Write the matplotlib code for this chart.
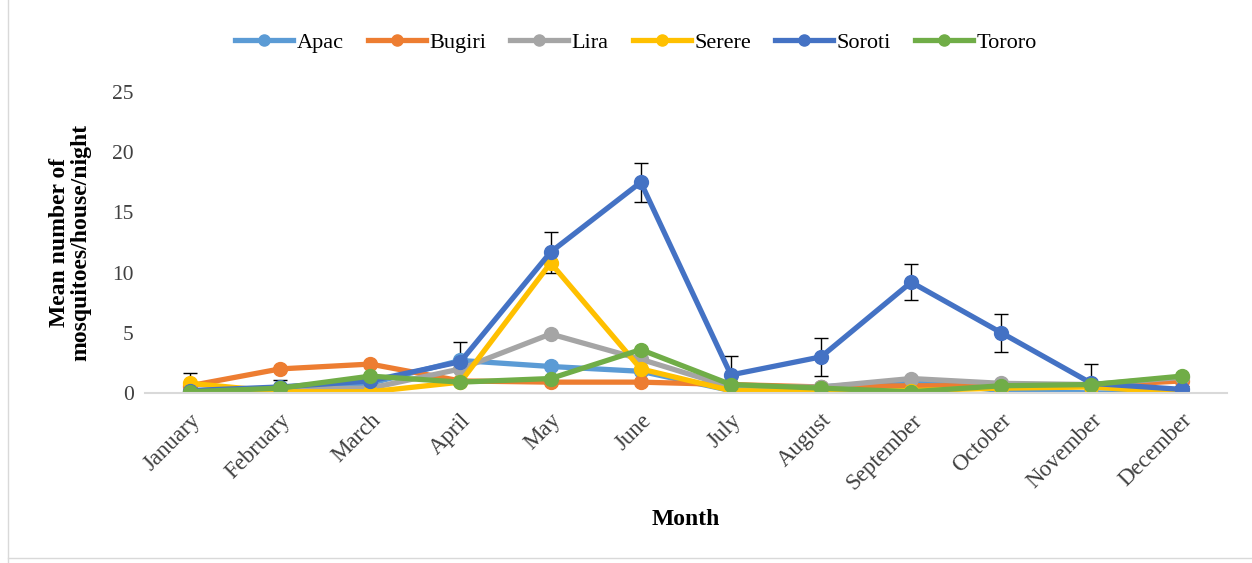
import matplotlib.pyplot as plt
import numpy as np

months = ["January", "February", "March", "April", "May", "June", "July",
          "August", "September", "October", "November", "December"]

apac = [0.0, 0.3, 0.8, 2.7, 2.2, 1.8, 0.2, 0.5, 1.0, 0.2, 0.0, 0.0]
bugiri = [0.6, 2.0, 2.4, 1.0, 0.9, 0.9, 0.7, 0.5, 0.6, 0.6, 0.6, 1.0]
lira = [0.1, 0.3, 0.4, 2.0, 4.9, 2.8, 0.5, 0.5, 1.2, 0.8, 0.7, 1.3]
serere = [0.8, 0.1, 0.1, 0.9, 10.8, 2.0, 0.2, 0.1, 0.2, 0.4, 0.5, 0.0]
soroti = [0.2, 0.5, 1.0, 2.6, 11.7, 17.5, 1.5, 3.0, 9.2, 5.0, 0.8, 0.3]
tororo = [0.1, 0.4, 1.4, 0.9, 1.2, 3.6, 0.7, 0.4, 0.1, 0.6, 0.7, 1.4]
soroti_err = [1.5, 0.6, 0.5, 1.6, 1.7, 1.6, 1.6, 1.6, 1.5, 1.6, 1.6, 0.3]

series = [("Apac", apac, "#5b9bd5"),
          ("Bugiri", bugiri, "#ed7d31"),
          ("Lira", lira, "#a5a5a5"),
          ("Serere", serere, "#ffc000"),
          ("Soroti", soroti, "#4472c4"),
          ("Tororo", tororo, "#70ad47")]

plt.rcParams['font.family'] = ['Liberation Serif', 'DejaVu Serif']

fig = plt.figure(figsize=(12.52, 5.63), dpi=100)
ax = fig.add_axes([0.1158, 0.302, 0.864, 0.5346])

x = np.arange(len(months))
for name, vals, col in series:
    if name == "Soroti":
        ax.errorbar(x, vals, yerr=soroti_err, fmt="none", ecolor="black",
                    elinewidth=1, capsize=5, capthick=1, zorder=1)
    ax.plot(x, vals, color=col, lw=3.8, marker="o", ms=10, label=name, zorder=2)

ax.set_xlim(-0.5, len(months) - 0.5)
ax.set_ylim(0, 25)
ax.set_yticks([0, 5, 10, 15, 20, 25])
ax.set_xticks(x)
ax.set_xticklabels(months, rotation=45, ha="right", rotation_mode="anchor")
ax.tick_params(axis="both", length=0, labelsize=15.5, colors="#404040")
ax.tick_params(axis="x", pad=12, labelsize=16.5)
ax.tick_params(axis="y", pad=8)
for s in ["top", "right", "left"]:
    ax.spines[s].set_visible(False)
ax.spines["bottom"].set_color("#d9d9d9")
ax.spines["bottom"].set_linewidth(1.5)

ax.set_ylabel("Mean number of\nmosquitoes/house/night", fontsize=17,
              fontweight="bold", linespacing=1.05, va="center")
ax.yaxis.set_label_coords(-0.069, 0.5)
ax.set_xlabel("Month", fontsize=17, fontweight="bold")
ax.xaxis.set_label_coords(0.5, -0.385)

fig.legend(loc="center", bbox_to_anchor=(0.508, 0.925), ncol=6,
           frameon=False, fontsize=16, handlelength=2.6, handletextpad=0.15,
           columnspacing=1.1, markerscale=0.8)

# grey frame edges like the source chart
fig.add_artist(plt.Line2D([0.006, 0.006], [0.0, 1.0], color="#d9d9d9", lw=1))
fig.add_artist(plt.Line2D([0.006, 1.0], [0.009, 0.009], color="#d9d9d9", lw=1))

fig.savefig("out.png", dpi=100)
